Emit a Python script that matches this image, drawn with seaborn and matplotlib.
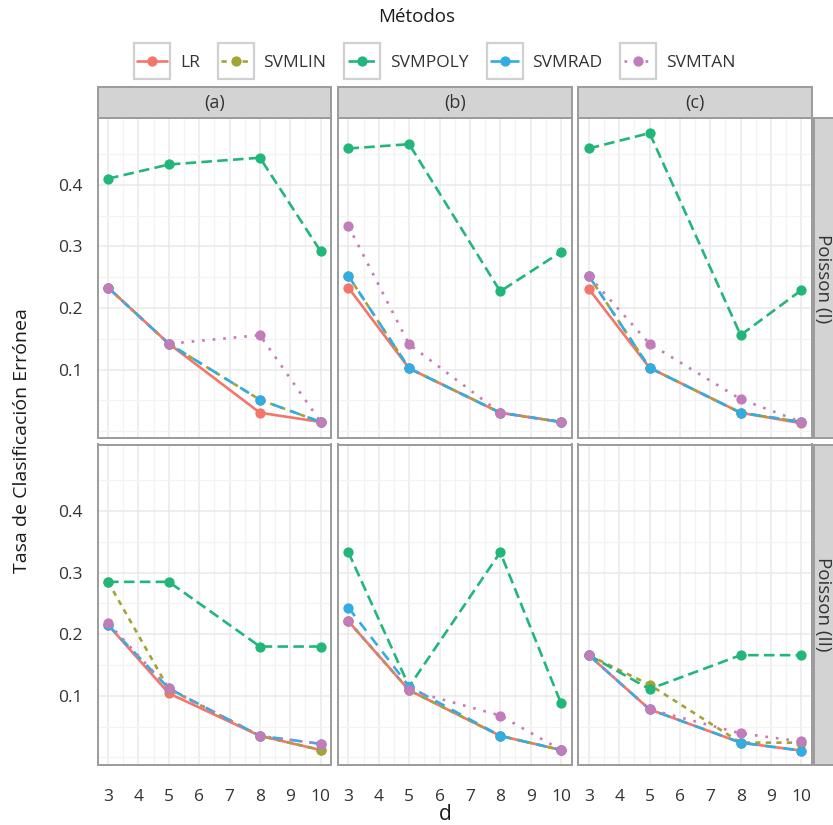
import numpy as np
import pandas as pd
import matplotlib
matplotlib.use("Agg")
import matplotlib.pyplot as plt
import seaborn as sns
from matplotlib.patches import Rectangle

# ---------------- data ----------------
d_values = [3, 5, 8, 10]
methods = ["LR", "SVMLIN", "SVMPOLY", "SVMRAD", "SVMTAN"]
col_labels = ["(a)", "(b)", "(c)"]
row_labels = ["Poisson (I)", "Poisson (II)"]

poisson1_a = {"LR": [0.233, 0.142, 0.030, 0.015], "SVMLIN": [0.233, 0.142, 0.051, 0.015],
              "SVMPOLY": [0.410, 0.433, 0.444, 0.292], "SVMRAD": [0.233, 0.142, 0.051, 0.015],
              "SVMTAN": [0.233, 0.142, 0.156, 0.015]}
poisson1_b = {"LR": [0.233, 0.102, 0.030, 0.015], "SVMLIN": [0.252, 0.102, 0.030, 0.015],
              "SVMPOLY": [0.459, 0.466, 0.227, 0.291], "SVMRAD": [0.252, 0.102, 0.030, 0.015],
              "SVMTAN": [0.333, 0.141, 0.030, 0.015]}
poisson1_c = {"LR": [0.231, 0.103, 0.030, 0.013], "SVMLIN": [0.252, 0.103, 0.030, 0.015],
              "SVMPOLY": [0.459, 0.484, 0.156, 0.229], "SVMRAD": [0.252, 0.103, 0.030, 0.015],
              "SVMTAN": [0.252, 0.142, 0.052, 0.015]}
poisson2_a = {"LR": [0.215, 0.104, 0.035, 0.012], "SVMLIN": [0.285, 0.111, 0.035, 0.012],
              "SVMPOLY": [0.285, 0.285, 0.180, 0.180], "SVMRAD": [0.215, 0.112, 0.035, 0.022],
              "SVMTAN": [0.218, 0.112, 0.035, 0.022]}
poisson2_b = {"LR": [0.221, 0.109, 0.035, 0.012], "SVMLIN": [0.221, 0.109, 0.035, 0.012],
              "SVMPOLY": [0.333, 0.115, 0.333, 0.088], "SVMRAD": [0.243, 0.115, 0.035, 0.012],
              "SVMTAN": [0.221, 0.109, 0.068, 0.012]}
poisson2_c = {"LR": [0.166, 0.078, 0.024, 0.011], "SVMLIN": [0.166, 0.118, 0.024, 0.024],
              "SVMPOLY": [0.166, 0.111, 0.166, 0.166], "SVMRAD": [0.166, 0.078, 0.024, 0.011],
              "SVMTAN": [0.166, 0.078, 0.039, 0.026]}
panels = [[poisson1_a, poisson1_b, poisson1_c], [poisson2_a, poisson2_b, poisson2_c]]

y_ticks = [0.1, 0.2, 0.3, 0.4]
x_ticks = list(range(3, 11))

# ---------------- style ----------------
sns.set_style("white")
plt.rcParams["font.family"] = ["Open Sans", "DejaVu Sans"]
palette = {"LR": "#F2766A", "SVMLIN": "#A3A436", "SVMPOLY": "#22B67A",
           "SVMRAD": "#31ADE4", "SVMTAN": "#C27CBA"}
dash_map = {"LR": "", "SVMLIN": (2, 2), "SVMPOLY": (4, 2), "SVMRAD": (4, 3), "SVMTAN": (1, 3)}
marker_map = {m: "o" for m in methods}
border = "#9b9b9b"
text_col = "#333333"

W, H = 833, 825
fig = plt.figure(figsize=(W / 100, H / 100), dpi=100)
col_x = [97.5, 337.8, 578.2]
pw = 233.8
row_y = [118.3, 444.5]
ph = 320.0
strip_h = 31.0


def px_rect(x, y, w, h):
    return [x / W, 1 - (y + h) / H, w / W, h / H]


handles, labels = None, None
for r in range(2):
    for c in range(3):
        ax = fig.add_axes(px_rect(col_x[c], row_y[r], pw, ph))
        data = panels[r][c]
        df = pd.DataFrame([(m, d, v) for m in methods for d, v in zip(d_values, data[m])],
                          columns=["method", "d", "err"])
        sns.lineplot(data=df, x="d", y="err", hue="method", style="method",
                     hue_order=methods, style_order=methods, palette=palette,
                     dashes=dash_map, markers=marker_map, markersize=7.4,
                     markeredgewidth=0, linewidth=1.9, estimator=None,
                     ax=ax, legend=(r == 0 and c == 0), zorder=3)
        if r == 0 and c == 0:
            handles, labels = ax.get_legend_handles_labels()
            ax.get_legend().remove()
        ax.set_xlim(2.65, 10.35)
        ax.set_ylim(-0.0115, 0.508)
        ax.set_xticks(x_ticks)
        ax.set_xticks(np.arange(3.5, 10, 1.0), minor=True)
        ax.set_yticks(y_ticks)
        ax.set_yticks([0.0, 0.05, 0.15, 0.25, 0.35, 0.45], minor=True)
        ax.grid(which="major", color="#e9e9e9", linewidth=1.1, zorder=0)
        ax.grid(which="minor", color="#f3f3f3", linewidth=0.9, zorder=0)
        ax.set_axisbelow(True)
        ax.set_xlabel("")
        ax.set_ylabel("")
        for s in ax.spines.values():
            s.set_color(border)
            s.set_linewidth(1.4)
            s.set_zorder(5)
        ax.tick_params(which="minor", length=0)
        ax.tick_params(which="major", length=5.5, width=1.0, color=text_col,
                       labelsize=12.5, labelcolor=text_col)
        ax.tick_params(axis="x", pad=12)
        ax.tick_params(axis="y", pad=5)
        ax.set_yticklabels([f"{v:.1f}" for v in y_ticks])
        if c != 0:
            ax.tick_params(axis="y", left=False, labelleft=False)
        if r != 1:
            ax.tick_params(axis="x", bottom=False, labelbottom=False)
        # facet strips
        if r == 0:
            ax.add_patch(Rectangle((0, 1), 1, strip_h / ph, transform=ax.transAxes,
                                   clip_on=False, facecolor="#d3d3d4", edgecolor=border,
                                   linewidth=1.4, zorder=6))
            ax.text(0.5, 1 + strip_h / ph / 2, col_labels[c], transform=ax.transAxes,
                    ha="center", va="center", fontsize=13, color=text_col, zorder=7)
        if c == 2:
            ax.add_patch(Rectangle((1 + 1.5 / pw, 0), 40 / pw, 1, transform=ax.transAxes,
                                   clip_on=False, facecolor="#d3d3d4", edgecolor=border,
                                   linewidth=1.4, zorder=6))
            ax.text(1 + 10.5 / pw, 0.5, row_labels[r], transform=ax.transAxes, rotation=-90,
                    ha="center", va="center", fontsize=13.5, color=text_col, zorder=7,
                    rotation_mode="anchor")

# axis titles
fig.text(22 / W, 1 - 441 / H, "Tasa de Clasificación Errónea", rotation=90,
         ha="center", va="center", fontsize=14, color="#1a1a1a")
fig.text(445 / W, 1 - 814 / H, "d", ha="center", va="center", fontsize=15, color="#1a1a1a")

# legend
fig.text(416.5 / W, 1 - 17 / H, "Métodos", ha="center", va="center", fontsize=13.5,
         color="#1a1a1a")
leg = fig.legend(handles, labels, loc="center", bbox_to_anchor=(436.5 / W, 1 - 63 / H),
                 ncol=5, frameon=False, handlelength=1.7, handletextpad=0.75,
                 columnspacing=1.22, fontsize=12.5, labelcolor=text_col)
fig.canvas.draw()
renderer = fig.canvas.get_renderer()
for ln in leg.get_lines():
    bb = ln.get_window_extent(renderer)
    cx, cy = (bb.x0 + bb.x1) / 2, (bb.y0 + bb.y1) / 2
    bw, bh = 36, 36
    fig.patches.append(Rectangle(((cx - bw / 2) / W, (cy - bh / 2) / H), bw / W, bh / H,
                                 transform=fig.transFigure, facecolor="white",
                                 edgecolor="#d0d0d0", linewidth=1.6, zorder=0))

fig.savefig("out.png", dpi=100)
